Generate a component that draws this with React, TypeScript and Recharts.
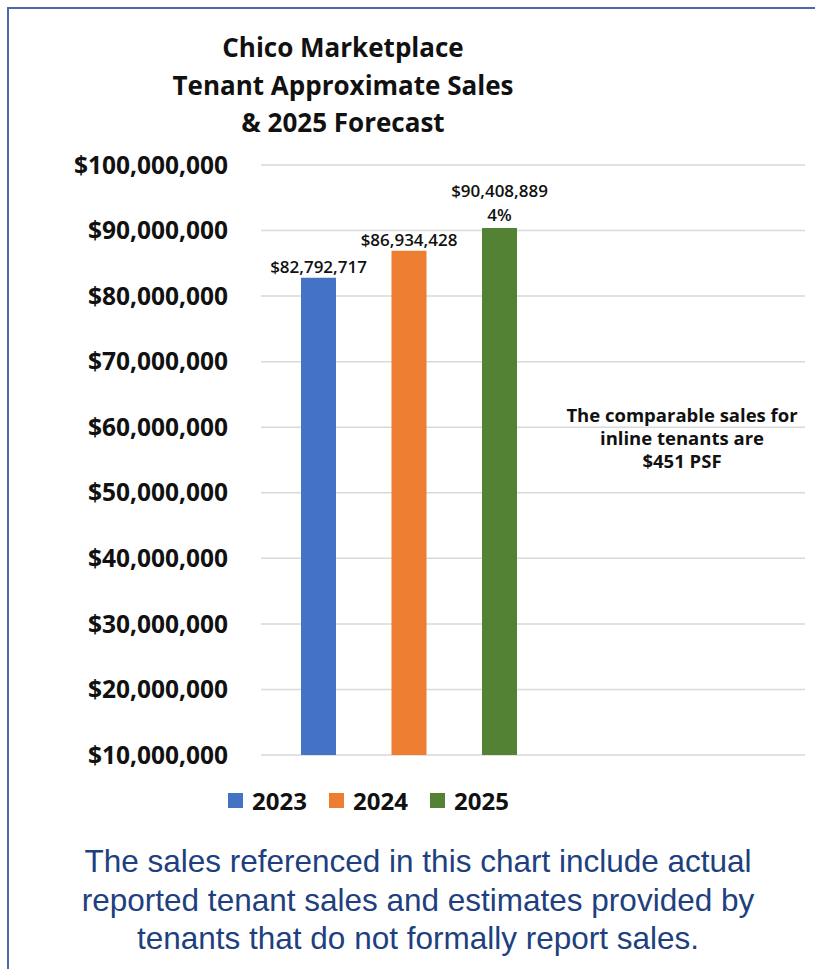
import React from "react";
import { BarChart, Bar, XAxis, YAxis, CartesianGrid } from "recharts";

const years = ["2023", "2024", "2025"];
const sales = [82792717, 86934428, 90408889];
const growthNotes = ["", "", "4%"];
const colors = ["#4472C4", "#ED7D31", "#548235"];
const yTicks = [10000000, 20000000, 30000000, 40000000, 50000000, 60000000, 70000000, 80000000, 90000000, 100000000];
const titleLines = ["Chico Marketplace", "Tenant Approximate Sales", "& 2025 Forecast"];
const noteLines = ["The comparable sales for", "inline tenants are", "$451 PSF"];
const footLines = [
  "The sales referenced in this chart include actual",
  "reported tenant sales and estimates provided by",
  "tenants that do not formally report sales.",
];

const row: Record<string, string | number> = { name: "Sales" };
years.forEach((y, i) => {
  row["y" + y] = sales[i];
});
const data = [row];

const fmtMoney = (v: number) => "$" + Number(v).toLocaleString("en-US");

const FONT = "'Open Sans', sans-serif";

function makeLabel(i: number) {
  return (p: any) => {
    const cx = p.x + p.width / 2;
    const note = growthNotes[i];
    const common = {
      x: cx,
      textAnchor: "middle" as const,
      dominantBaseline: "central" as const,
      fontFamily: FONT,
      fontSize: 17,
      fontWeight: 600,
      fill: "#111",
    };
    return (
      <g>
        <text {...common} y={note ? p.y - 37 : p.y - 11}>
          {fmtMoney(p.value)}
        </text>
        {note ? (
          <text {...common} y={p.y - 13}>
            {note}
          </text>
        ) : null}
      </g>
    );
  };
}

export default function App() {
  return (
    <div
      style={{
        position: "fixed",
        left: 0,
        top: 0,
        width: 815,
        height: 969,
        overflow: "hidden",
        background: "#fff",
        fontFamily: FONT,
      }}
    >
      <div
        style={{
          position: "absolute",
          left: 7,
          top: 7,
          width: 820,
          height: 980,
          borderTop: "2px solid #4f68ad",
          borderLeft: "2px solid #4f68ad",
        }}
      />
      {titleLines.map((t, i) => (
        <div
          key={t}
          style={{
            position: "absolute",
            left: 143,
            width: 400,
            top: 47 + i * 37.5 - 18,
            height: 36,
            lineHeight: "36px",
            textAlign: "center",
            fontSize: 26,
            fontWeight: 700,
            color: "#111",
          }}
        >
          {t}
        </div>
      ))}
      <BarChart
        width={815}
        height={969}
        data={data}
        margin={{ top: 165, right: 10, bottom: 214, left: 21 }}
        barGap={55.5}
        style={{ position: "absolute", left: 0, top: 0 }}
      >
        <CartesianGrid vertical={false} stroke="#d9d9d9" strokeWidth={1.5} />
        <XAxis dataKey="name" hide padding={{ left: 0, right: 249 }} />
        <YAxis
          width={240}
          domain={[10000000, 100000000]}
          ticks={yTicks}
          interval={0}
          axisLine={false}
          tickLine={false}
          tickSize={0}
          tickMargin={33}
          tickFormatter={fmtMoney}
          tick={{ fontFamily: FONT, fontSize: 24.5, fontWeight: 700, fill: "#111" }}
        />
        {years.map((y, i) => (
          <Bar
            key={y}
            dataKey={"y" + y}
            name={y}
            fill={colors[i]}
            barSize={35}
            isAnimationActive={false}
            label={makeLabel(i)}
          />
        ))}
      </BarChart>
      {noteLines.map((t, i) => (
        <div
          key={t}
          style={{
            position: "absolute",
            left: 532,
            width: 300,
            top: 415 + i * 23 - 12,
            height: 24,
            lineHeight: "24px",
            textAlign: "center",
            fontSize: 18.5,
            fontWeight: 700,
            color: "#111",
          }}
        >
          {t}
        </div>
      ))}
      {years.map((y, i) => (
        <div
          key={y}
          style={{
            position: "absolute",
            left: 228 + i * 101,
            top: 800 - 15,
            height: 30,
            display: "flex",
            alignItems: "center",
            fontSize: 24,
            fontWeight: 700,
            color: "#111",
          }}
        >
          <span style={{ display: "inline-block", width: 15, height: 15, background: colors[i], marginRight: 9 }} />
          {y}
        </div>
      ))}
      {footLines.map((t, i) => (
        <div
          key={t}
          style={{
            position: "absolute",
            left: 18,
            width: 800,
            top: 861 + i * 38.5 - 19,
            height: 38,
            lineHeight: "38px",
            textAlign: "center",
            fontFamily: "'Liberation Sans', Arial, sans-serif",
            fontSize: 31.5,
            color: "#203f7e",
          }}
        >
          {t}
        </div>
      ))}
    </div>
  );
}
